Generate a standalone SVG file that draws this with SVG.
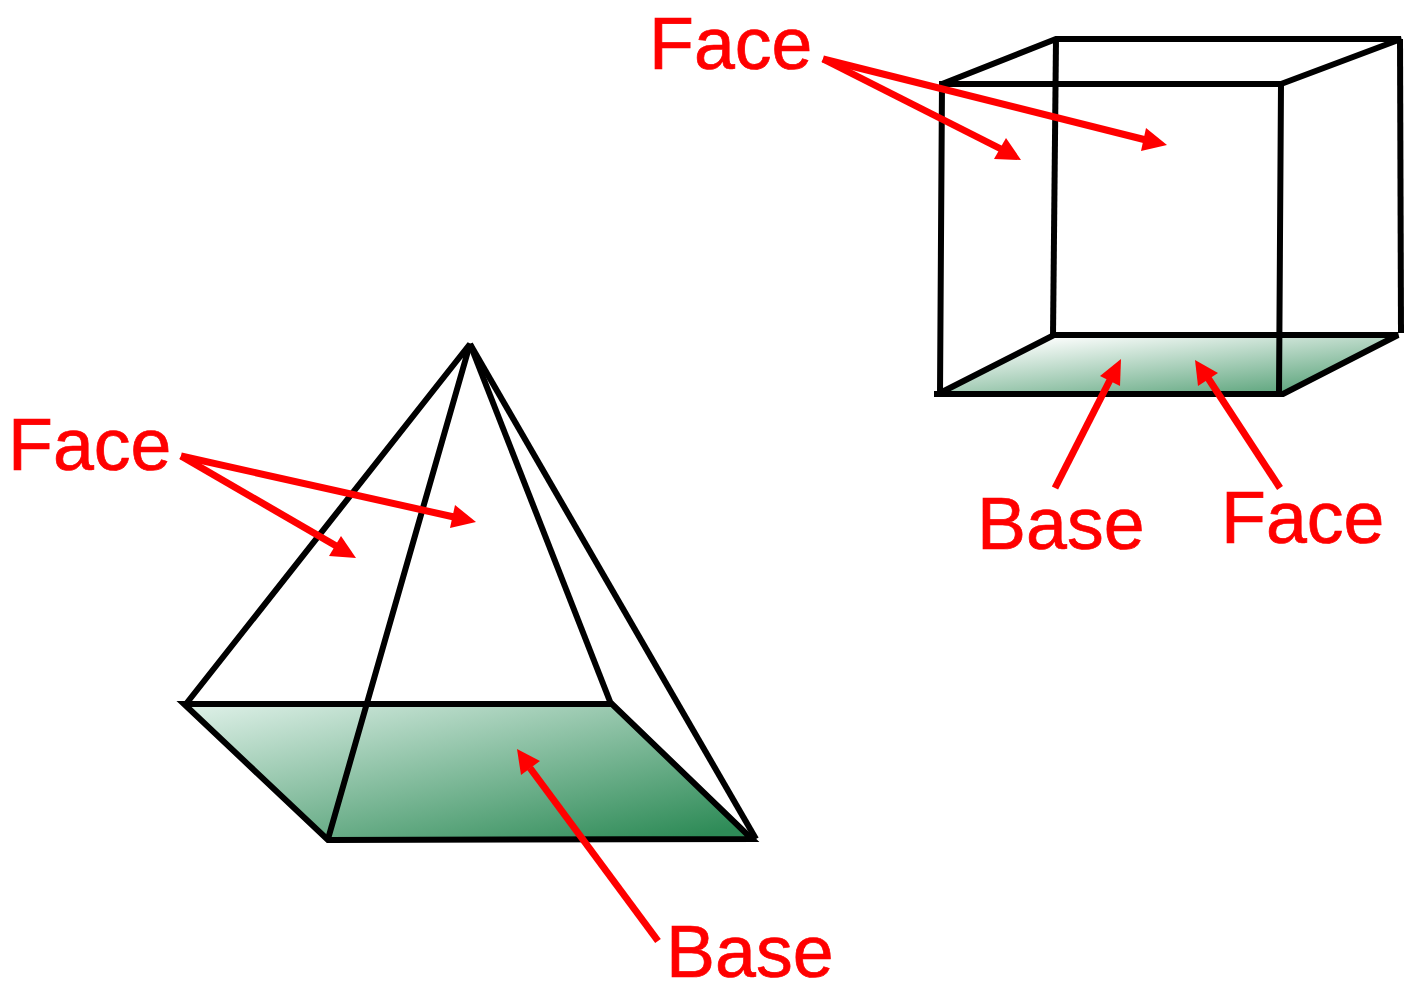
<svg xmlns="http://www.w3.org/2000/svg" width="1408" height="982" viewBox="0 0 1408 982">
<style>
.e{fill:none;stroke:#000;stroke-width:6;stroke-linejoin:miter}
.a{stroke:#f00;stroke-width:7;fill:none}
.h{fill:#f00}
text{font-family:"Liberation Sans",Arial,sans-serif;font-size:73.5px;fill:#f00;stroke:#f00;stroke-width:.7px}
</style>
<defs>
<linearGradient id="g1" gradientUnits="userSpaceOnUse" x1="190" y1="708" x2="238" y2="934"><stop offset="0" stop-color="#dcefe6"/><stop offset="1" stop-color="#2e8b57"/></linearGradient>
<linearGradient id="g2" gradientUnits="userSpaceOnUse" x1="1130" y1="327" x2="1141" y2="433"><stop offset="0" stop-color="#fff"/><stop offset="1" stop-color="#2e8b57"/></linearGradient>
</defs>
<g id="cube">
<polygon points="1055,336 1398,336 1281,394 940,394" fill="url(#g2)"/>
<path class="e" d="M940,394 L942,84 L1281,84 L1279,394"/>
<path class="e" d="M942,84 L1056,39 L1401,39 L1281,84"/>
<path class="e" d="M1056,39 L1053,336"/>
<path class="e" d="M1400,39 L1401,333"/>
<path class="e" d="M934,394 L1283,394 L1398,335 L1054,335 L940,393"/>
</g>
<g id="pyramid">
<polygon points="186,704 612,704 752,839 328,839" fill="url(#g1)"/>
<path class="e" d="M186,704 L470,344 L328,839"/>
<path class="e" d="M470,344 L611,704"/>
<path class="e" d="M470,344 L756,839"/>
<path class="e" d="M184,704 L612,704 L752,839 L328,840 Z"/>
</g>
<g id="connectors">
<path class="a" d="M823,59 L1146,140"/><polygon class="h" points="1167,145 1141,151 1146,128"/>
<path class="a" d="M823,59 L1003,150"/><polygon class="h" points="1021,160 994,159 1006,138"/>
<path class="a" d="M1055,488 L1111,378"/><polygon class="h" points="1121,359 1120,386 1100,376"/>
<path class="a" d="M1280,488 L1208,378"/><polygon class="h" points="1195,360 1218,373 1198,386"/>
<path class="a" d="M181,456 L454,517"/><polygon class="h" points="476,522 450,528 455,505"/>
<path class="a" d="M181,456 L338,547"/><polygon class="h" points="356,558 329,556 341,536"/>
<path class="a" d="M658,941 L530,768"/><polygon class="h" points="517,749 540,761 521,775"/>
</g>
<g id="labels">
<text x="649" y="69">Face</text>
<text x="8" y="470">Face</text>
<text x="977" y="549">Base</text>
<text x="1221" y="543">Face</text>
<text x="666" y="977">Base</text>
</g>
</svg>
